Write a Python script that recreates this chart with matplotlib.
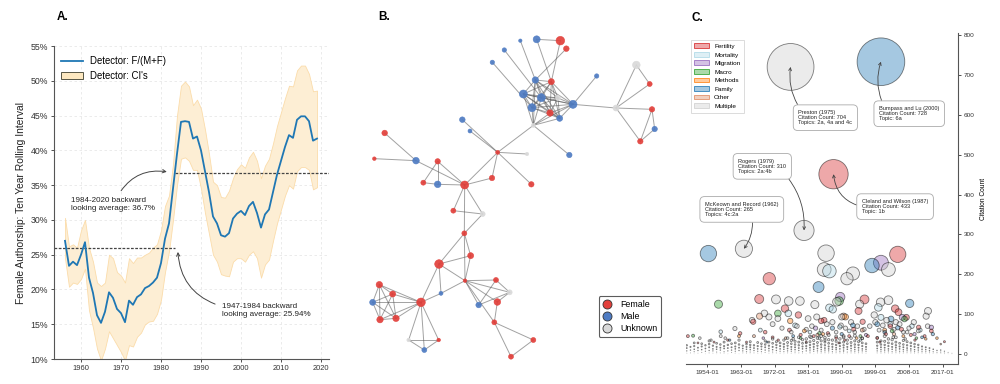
import matplotlib
matplotlib.use('Agg')
import matplotlib.pyplot as plt
from matplotlib.patches import Patch
from matplotlib.lines import Line2D
from matplotlib.ticker import FuncFormatter
from matplotlib.colors import to_rgba

plt.rcParams['font.family'] = ['Liberation Sans', 'DejaVu Sans']

# ---------------- Panel A data ----------------
years = list(range(1956, 2020))
ratio = [27.0, 23.4, 24.0, 23.5, 25.0, 26.8, 21.7, 19.5, 16.3, 15.2,
         16.8, 19.6, 18.8, 17.2, 16.6, 15.3, 18.4, 17.8, 18.9, 19.3,
         20.2, 20.5, 21.0, 21.7, 23.8, 27.3, 29.5, 34.5, 39.5, 44.1,
         44.2, 44.1, 41.7, 42.0, 40.0, 37.0, 34.0, 30.5, 29.5, 27.8,
         27.6, 28.1, 30.2, 30.9, 31.3, 30.7, 32.0, 32.6, 31.0, 28.9,
         30.8, 31.5, 34.0, 36.5, 38.5, 40.5, 42.2, 41.8, 44.4, 44.9,
         44.9, 44.2, 41.4, 41.7]
ci_hi = [30.3, 26.2, 26.5, 26.0, 28.5, 30.0, 26.0, 24.0, 21.0, 20.5,
         21.0, 25.0, 24.5, 22.5, 22.0, 21.0, 24.5, 23.8, 24.6, 24.6,
         25.0, 25.3, 26.0, 26.5, 28.5, 32.0, 33.5, 38.0, 45.0, 49.3,
         49.9, 49.2, 46.5, 47.3, 46.0, 43.0, 39.5, 35.5, 35.0, 33.3,
         33.2, 34.2, 36.0, 37.3, 38.0, 37.5, 39.0, 39.8, 38.5, 36.0,
         37.8, 38.8, 41.0, 43.5, 45.5, 47.5, 49.3, 49.2, 51.5, 52.2,
         52.2, 51.0, 48.5, 48.6]
ci_lo = [24.5, 20.4, 21.0, 20.8, 21.5, 23.0, 17.0, 14.5, 11.5, 9.8,
         11.5, 14.0, 13.0, 12.0, 11.0, 9.8, 12.0, 11.8, 13.2, 13.8,
         15.0, 15.4, 15.5, 16.5, 18.5, 22.5, 25.5, 30.0, 35.0, 38.8,
         39.0, 38.5, 37.2, 37.2, 34.5, 31.0, 28.0, 25.0, 24.0, 22.2,
         22.0, 21.9, 24.0, 24.5, 24.5, 24.0, 25.0, 25.5, 24.5, 21.7,
         23.6, 24.3, 27.0, 29.5, 31.5, 33.5, 35.0, 34.5, 37.0, 37.6,
         37.6, 37.2, 34.4, 34.7]
avg_early = 25.94
avg_late = 36.7
split_year = 1983.5

# ---------------- Panel B data (network layout) ----------------
node_x = [590, 661, 679, 541, 493, 457, 586, 634, 550, 604, 576, 630, 659, 699, 580, 654,
          770, 688, 828, 889, 929, 936, 944, 901, 473, 561, 367, 390, 574, 456, 374, 293,
          293, 250, 228, 134, 103, 340, 428, 373, 392, 297, 375, 303, 243, 118, 158, 98,
          120, 168, 206, 253, 296, 468, 509, 416, 472, 463, 580, 513]
node_y = [118, 122, 146, 122, 150, 187, 240, 245, 282, 293, 323, 339, 355, 313, 376, 294,
          228, 465, 324, 195, 252, 328, 387, 424, 457, 462, 359, 393, 553, 534, 555, 484,
          553, 548, 482, 399, 476, 632, 642, 700, 767, 792, 842, 880, 907, 854, 882, 907,
          959, 955, 1020, 1050, 1020, 840, 877, 915, 906, 967, 1020, 1070]
node_gender = ['M', 'F', 'F', 'M', 'M', 'M', 'M', 'F', 'M', 'M', 'M', 'F', 'M', 'M', 'U', 'U',
               'M', 'M', 'U', 'U', 'F', 'F', 'M', 'F', 'F', 'U', 'M', 'M', 'F', 'F', 'F', 'F',
               'M', 'F', 'M', 'F', 'F', 'F', 'U', 'F', 'F', 'F', 'F', 'M', 'F', 'F', 'F', 'M',
               'F', 'F', 'U', 'M', 'F', 'F', 'U', 'M', 'F', 'F', 'F', 'F']
node_r = [3.5, 4.3, 2.8, 1.7, 2.2, 2.2, 3.2, 3.0, 4.0, 4.0, 4.0, 3.2, 3.0, 4.0, 2.0, 2.5,
          2.2, 2.7, 3.0, 3.8, 2.5, 2.7, 2.7, 2.7, 2.0, 1.7, 2.8, 2.0, 2.7, 2.7, 4.0, 2.7,
          3.3, 2.5, 3.3, 2.8, 1.8, 2.5, 2.5, 2.5, 3.0, 4.3, 1.8, 2.0, 4.3, 3.2, 3.0, 3.0,
          3.2, 3.2, 1.8, 2.5, 1.8, 2.5, 2.5, 2.8, 3.3, 2.5, 2.5, 2.5]
core = [6, 7, 8, 9, 10, 11, 12, 13, 15]
edges = [(0, 1), (0, 7), (1, 7), (2, 6), (3, 6), (4, 9), (5, 10),
         (14, 6), (14, 8), (14, 9), (14, 10), (14, 11), (14, 12), (14, 13),
         (13, 16), (14, 17), (13, 18), (18, 19), (18, 20), (19, 20), (18, 21), (18, 23),
         (21, 22), (21, 23), (22, 23),
         (14, 24), (24, 25), (24, 26), (24, 27), (24, 30), (24, 29), (24, 28),
         (29, 30), (30, 31), (30, 32), (30, 34), (31, 32), (31, 33), (32, 33), (34, 35), (34, 36),
         (30, 37), (30, 38), (30, 39), (37, 38), (38, 39), (39, 40), (39, 41), (40, 41), (39, 42),
         (40, 42), (41, 42), (41, 43), (41, 44), (42, 43), (43, 44),
         (44, 45), (44, 46), (44, 47), (44, 48), (44, 49), (44, 50), (44, 51), (44, 52),
         (45, 46), (45, 47), (45, 48), (45, 49), (46, 47), (46, 48), (46, 49), (47, 48),
         (47, 49), (48, 49), (50, 51), (50, 52), (51, 52),
         (42, 53), (42, 54), (42, 55), (42, 56), (42, 57), (53, 54), (53, 55), (54, 55),
         (54, 56), (56, 57), (57, 58), (57, 59), (58, 59)]
gender_labels = ['Female', 'Male', 'Unknown']
gender_colors = {'F': '#e2403b', 'M': '#4f7cc3', 'U': '#d9d9d9'}

# ---------------- Panel C data (publication year, citation count) ----------------
fertility_pts = [(1948.8, 45), (1951.5, 28), (1955.8, 30), (1959.5, 35), (1962.8, 52), (1964.5, 30),
                 (1966.3, 81), (1967.9, 138), (1969.5, 55), (1970.6, 189), (1971.5, 42), (1973.0, 35),
                 (1974.8, 114), (1976.0, 60), (1978.4, 98), (1979.0, 48), (1980.5, 30), (1982.5, 45),
                 (1984.5, 83), (1985.3, 85), (1986.3, 52), (1987.8, 451), (1988.5, 40), (1989.2, 28),
                 (1990.8, 35), (1992.0, 45), (1993.2, 62), (1994.5, 108), (1995.6, 81), (1996.1, 137),
                 (1997.0, 45), (1999.5, 40), (2000.2, 30), (2001.8, 50), (2003.0, 70), (2004.3, 114),
                 (2005.0, 250), (2005.2, 105), (2006.0, 62), (2007.3, 92), (2008.5, 48), (2009.6, 35),
                 (2010.6, 67), (2012.2, 45), (2014.0, 58), (2017.5, 31)]
mortality_pts = [(1957.6, 56), (1968.2, 60), (1975.7, 102), (1977.5, 72), (1981.5, 55), (1986.7, 208),
                 (1986.7, 116), (1987.6, 112), (1989.5, 68), (1992.0, 58), (1999.8, 117), (2000.5, 92),
                 (2003.0, 75), (2008.8, 70), (2011.0, 60), (1984.0, 40), (1995.0, 35)]
migration_pts = [(1969.0, 40), (1983.0, 65), (1989.6, 143), (1996.5, 48), (2000.5, 229), (2006.2, 92),
                 (2009.5, 50), (2014.0, 67)]
macro_pts = [(1950.2, 46), (1957.0, 125), (1972.9, 102), (1979.0, 40), (1984.0, 52), (1989.3, 133),
             (1995.0, 45), (2003.5, 58), (2006.8, 88), (2010.0, 40)]
methods_pts = [(1962.5, 45), (1976.2, 83), (1980.0, 58), (1985.0, 50), (1991.0, 93), (1994.0, 40),
               (2001.5, 60), (2006.5, 45), (2012.5, 38), (2015.5, 40)]
family_pts = [(1954.3, 252), (1960.0, 35), (1970.0, 30), (1977.0, 45), (1983.8, 168), (1987.5, 65),
              (1990.0, 50), (1993.0, 72), (1998.1, 222), (1999.5, 75), (2000.5, 733), (2001.5, 55),
              (2003.2, 88), (2005.0, 66), (2008.2, 127), (2011.5, 42), (2014.4, 50)]
other_pts = [(1966.5, 45), (1968.0, 95), (1975.0, 40), (1983.5, 48), (1990.5, 95), (1995.5, 60),
             (2004.0, 50), (2016.5, 25)]
multiple_pts = [(1952.0, 40), (1955.0, 35), (1957.6, 45), (1958.8, 40), (1961.4, 64), (1963.8, 264),
                (1966.0, 85), (1969.3, 102), (1970.5, 93), (1971.5, 75), (1972.4, 137), (1972.9, 89),
                (1976.3, 720), (1975.8, 133), (1978.8, 133), (1979.9, 310), (1981.0, 89), (1982.8, 124),
                (1983.3, 93), (1985.3, 212), (1985.8, 253), (1988.7, 131), (1990.0, 93), (1991.4, 189),
                (1993.0, 202), (1994.8, 125), (1997.5, 70), (1998.7, 98), (2000.4, 130), (2002.5, 135),
                (2002.5, 212), (2004.5, 80), (2007.5, 55), (2012.6, 95), (2013.1, 108),
                (1974.0, 65), (1976.5, 55), (1978.0, 70), (1980.5, 62), (1982.0, 70), (1984.5, 60),
                (1986.0, 75), (1987.5, 80), (1988.5, 55), (1989.8, 72), (1991.0, 65), (1992.5, 80),
                (1993.5, 55), (1994.2, 70), (1996.0, 62), (1999.0, 80), (2000.0, 60), (2001.0, 72),
                (2002.0, 85), (2004.0, 62), (2005.5, 75), (2006.5, 55), (2008.0, 65), (2009.3, 80),
                (2010.5, 58), (2013.0, 70), (1977.0, 38), (1981.8, 42), (1985.5, 35), (1990.5, 45),
                (1995.5, 40), (2003.8, 42), (2007.0, 38)]
small_counts_by_year = {
    1948: [2, 8, 15, 22], 1949: [3, 10, 18], 1950: [1, 6, 12, 20, 28], 1951: [2, 9, 16],
    1952: [4, 11, 19, 26], 1953: [1, 7, 14, 22], 1954: [3, 9, 17, 25, 33], 1955: [2, 8, 13, 21],
    1956: [1, 5, 12, 18, 27], 1957: [3, 10, 16, 24], 1958: [2, 6, 14, 20, 30], 1959: [1, 8, 15, 23],
    1960: [4, 10, 17, 26], 1961: [2, 7, 13, 19, 28], 1962: [1, 9, 16, 24, 35], 1963: [3, 8, 14, 21],
    1964: [2, 6, 12, 18, 25], 1965: [1, 5, 11, 17, 23, 31], 1966: [3, 9, 15, 22],
    1967: [2, 7, 13, 20, 29], 1968: [1, 6, 12, 19, 26], 1969: [4, 10, 17, 24, 33],
    1970: [2, 8, 14, 21, 30], 1971: [1, 5, 11, 18, 27, 38], 1972: [3, 9, 16, 23, 31],
    1973: [2, 7, 13, 20, 28], 1974: [1, 6, 12, 18, 25, 35], 1975: [3, 8, 14, 21, 29, 40],
    1976: [2, 7, 12, 18, 26, 34], 1977: [1, 5, 11, 17, 24, 32], 1978: [3, 9, 15, 22, 30, 42],
    1979: [2, 6, 13, 19, 27, 36], 1980: [1, 8, 14, 20, 28, 38], 1981: [2, 5, 10, 16, 23, 31, 44],
    1982: [1, 7, 12, 18, 25, 34], 1983: [3, 8, 14, 21, 29, 40], 1984: [2, 6, 11, 17, 24, 33, 45],
    1985: [1, 5, 10, 15, 22, 30, 41], 1986: [3, 8, 13, 19, 27, 36, 48], 1987: [2, 6, 12, 18, 25, 35],
    1988: [1, 5, 11, 16, 23, 32, 44], 1989: [3, 7, 13, 20, 28, 38], 1990: [2, 6, 10, 16, 22, 30, 42],
    1991: [1, 5, 12, 18, 26, 35], 1992: [3, 8, 14, 21, 29, 40], 1993: [2, 6, 11, 17, 24, 33, 46],
    1994: [1, 5, 10, 16, 23, 31], 1995: [3, 8, 13, 20, 28, 39], 1996: [2, 7, 12, 18, 26],
    1999: [3, 8, 14, 21, 30, 41], 2000: [2, 6, 11, 17, 24, 33], 2001: [1, 5, 10, 16, 23, 32, 45],
    2002: [3, 8, 13, 20, 28, 38], 2003: [2, 6, 12, 18, 26, 36], 2004: [1, 5, 10, 16, 22, 30, 42],
    2005: [3, 7, 13, 19, 27], 2006: [2, 6, 11, 17, 24, 34], 2007: [1, 5, 10, 15, 22, 31],
    2008: [3, 8, 13, 20, 28], 2009: [2, 6, 11, 18, 25], 2010: [1, 5, 10, 16, 23],
    2011: [3, 7, 12, 19], 2012: [2, 6, 11, 17], 2013: [1, 5, 9, 15], 2014: [2, 6, 12],
    2015: [1, 4, 9], 2016: [2, 5, 10], 2017: [1, 3, 7], 2018: [1, 4], 2019: [1, 2]}
topic_names = ['Fertility', 'Mortality', 'Migration', 'Macro', 'Methods', 'Family', 'Other', 'Multiple']
topic_colors = ['#d62728', '#add8e6', '#9467bd', '#2ca02c', '#ff7f0e', '#1f77b4', '#e08a60', '#cfcfcf']
topic_points = [fertility_pts, mortality_pts, migration_pts, macro_pts, methods_pts,
                family_pts, other_pts, multiple_pts]
c_xticks = [1954, 1963, 1972, 1981, 1990, 1999, 2008, 2017]
callouts = [
    ("Preston (1975)\nCitation Count: 704\nTopics: 2a, 4a and 4c", (1976.3, 720), (1978.4, 612), (0.05, 1), -0.2),
    ("Bumpass and Lu (2000)\nCitation Count: 728\nTopic: 6a", (2000.5, 733), (2000.0, 622), (0.08, 1), -0.2),
    ("Rogers (1979)\nCitation Count: 310\nTopics: 2a:4b", (1979.9, 310), (1962.3, 490), (0.97, 0), -0.2),
    ("Cleland and Wilson (1987)\nCitation Count: 433\nTopic: 1b", (1987.8, 451), (1995.4, 389), (0, 0.5), -0.35),
    ("McKeown and Record (1962)\nCitation Count: 265\nTopics: 4c:2a", (1963.8, 264), (1953.4, 382), (0.64, 0), -0.2),
]

fig = plt.figure(figsize=(10, 3.84), dpi=100)

# ================= Panel A =================
axA = fig.add_axes([0.054, 0.065, 0.275, 0.815])
axA.fill_between(years, ci_lo, ci_hi, facecolor='#fdeed4', edgecolor='#fbdcaa', lw=0.6, zorder=1)
axA.plot(years, ratio, color='#1f77b4', lw=1.3, zorder=3)
axA.set_xlim(1953.25, 2022)
axA.set_ylim(10, 55)
axA.hlines(avg_early, 1953.25, split_year, colors='#444444', linestyles=(0, (2.2, 1.2)), lw=0.9, zorder=2)
axA.hlines(avg_late, split_year, 2022, colors='#444444', linestyles=(0, (2.2, 1.2)), lw=0.9, zorder=2)
axA.set_yticks(range(10, 56, 5))
axA.yaxis.set_major_formatter(FuncFormatter(lambda v, p: f'{v:.0f}%'))
axA.set_xticks(range(1960, 2021, 10))
axA.grid(True, ls=(0, (3, 3)), color='#e8e8e8', lw=0.6)
axA.set_axisbelow(True)
for s in ['top', 'right']:
    axA.spines[s].set_visible(False)
for s in ['left', 'bottom']:
    axA.spines[s].set_color('#555555')
    axA.spines[s].set_linewidth(0.8)
axA.tick_params(length=2.5, width=0.6, colors='#333333', pad=2)
axA.tick_params(axis='y', labelsize=6.3)
axA.tick_params(axis='x', labelsize=5.4)
axA.set_ylabel('Female Authorship: Ten Year Rolling Interval', fontsize=7.4, labelpad=3, color='#222222')
hA = [Line2D([0], [0], color='#1f77b4', lw=1.3),
      Patch(facecolor='#fde8c0', edgecolor='#555544', lw=0.7)]
axA.legend(hA, ['Detector: F/(M+F)', "Detector: CI's"], loc='upper left', frameon=False,
           fontsize=6.9, handlelength=2.3, borderaxespad=0.3, bbox_to_anchor=(0.0, 0.99))
axA.annotate('1984-2020 backward\nlooking average: 36.7%', xy=(1981.8, 36.9), xytext=(1957.5, 33.3),
             ha='left', va='top', fontsize=5.8, color='#222222',
             arrowprops=dict(arrowstyle='->', color='#444444', lw=0.7,
                             connectionstyle='arc3,rad=-0.35', relpos=(0.55, 1.0), shrinkA=3, shrinkB=1))
axA.annotate('1947-1984 backward\nlooking average: 25.94%', xy=(1984.2, 25.6), xytext=(1995.2, 18.0),
             ha='left', va='top', fontsize=5.8, color='#222222',
             arrowprops=dict(arrowstyle='->', color='#444444', lw=0.7,
                             connectionstyle='arc3,rad=-0.35', relpos=(0.0, 0.8), shrinkA=3, shrinkB=1))
fig.text(0.057, 0.947, 'A.', fontsize=8.5, fontweight='bold')

# ================= Panel B =================
axB = fig.add_axes([0.34, 0.0, 0.33, 1.0])
axB.set_xlim(0, 990)
axB.set_ylim(1152, 0)
axB.axis('off')
all_edges = list(edges)
for i in range(len(core)):
    for j in range(i + 1, len(core)):
        all_edges.append((core[i], core[j]))
for a, b in all_edges:
    axB.plot([node_x[a], node_x[b]], [node_y[a], node_y[b]], color='#555555', alpha=0.55, lw=0.7, zorder=1)
node_sizes = [(2 * r * 0.72) ** 2 for r in node_r]
axB.scatter(node_x, node_y, s=node_sizes, c=[gender_colors[g] for g in node_gender],
            edgecolors=[to_rgba(gender_colors[g], 1) for g in node_gender], linewidths=0.4,
            alpha=0.92, zorder=3)
hB = [Line2D([0], [0], marker='o', ls='', markersize=6.5, markerfacecolor=gender_colors[g],
             markeredgecolor='#333333', markeredgewidth=0.6) for g in ['F', 'M', 'U']]
legB = axB.legend(hB, gender_labels, loc='upper left', bbox_to_anchor=(0.77, 0.24), fontsize=6.4,
                  frameon=True, handletextpad=0.8, borderpad=0.4, labelspacing=0.35, handlelength=1.2)
legB.get_frame().set_edgecolor('#333333')
legB.get_frame().set_linewidth(0.8)
fig.text(0.378, 0.947, 'B.', fontsize=8.5, fontweight='bold')

# ================= Panel C =================
axC = fig.add_axes([0.686, 0.052, 0.2715, 0.862])
xs, ys, fcs = [], [], []
for pts, col in zip(topic_points, topic_colors):
    for (x, y) in pts:
        xs.append(x); ys.append(y); fcs.append(to_rgba(col, 0.4))
for yr, counts in small_counts_by_year.items():
    for c in counts:
        xs.append(yr + 0.5); ys.append(c); fcs.append(to_rgba('#cfcfcf', 0.4))
order = sorted(range(len(xs)), key=lambda i: -ys[i])
xs = [xs[i] for i in order]; ys = [ys[i] for i in order]; fcs = [fcs[i] for i in order]
sizes = [(0.065 * v * 0.72) ** 2 for v in ys]
axC.scatter(xs, ys, s=sizes, facecolors=fcs, edgecolors=(0, 0, 0, 0.5), linewidths=0.6, zorder=2)
axC.set_xlim(1948.3, 2021)
axC.set_ylim(-25, 805)
axC.set_xticks(c_xticks)
axC.set_xticklabels([f'{y}-01' for y in c_xticks])
axC.yaxis.tick_right()
axC.yaxis.set_label_position('right')
axC.set_yticks(range(0, 801, 100))
axC.set_ylabel('Citation Count', fontsize=4.8, labelpad=4)
for s in ['top', 'left']:
    axC.spines[s].set_visible(False)
for s in ['right', 'bottom']:
    axC.spines[s].set_color('#555555')
    axC.spines[s].set_linewidth(0.8)
axC.tick_params(labelsize=4.6, length=2.5, width=0.6, colors='#333333', pad=2)
for txt, xy, xyt, rp, rad in callouts:
    axC.annotate(txt, xy=xy, xytext=xyt, ha='left', va='top', fontsize=4.1, color='#222222',
                 linespacing=1.05,
                 bbox=dict(boxstyle='round,pad=0.9,rounding_size=0.8', fc='white', ec='#aaaaaa', lw=0.6),
                 arrowprops=dict(arrowstyle='->', color='#444444', lw=0.6, mutation_scale=5,
                                 connectionstyle=f'arc3,rad={rad}', relpos=rp, shrinkA=0, shrinkB=0),
                 zorder=5)
hC = [Patch(facecolor=to_rgba(c, 0.4), edgecolor=to_rgba(c, 0.9), lw=0.6) for c in topic_colors]
legC = axC.legend(hC, topic_names, loc='upper left', bbox_to_anchor=(0.005, 0.99), fontsize=4.6,
                  handlelength=2.3, handleheight=0.8, labelspacing=0.45, borderpad=0.6,
                  frameon=True, fancybox=False)
legC.get_frame().set_edgecolor('#cccccc')
legC.get_frame().set_linewidth(0.6)
fig.text(0.692, 0.946, 'C.', fontsize=8.5, fontweight='bold')

fig.savefig('out.png', dpi=100)
